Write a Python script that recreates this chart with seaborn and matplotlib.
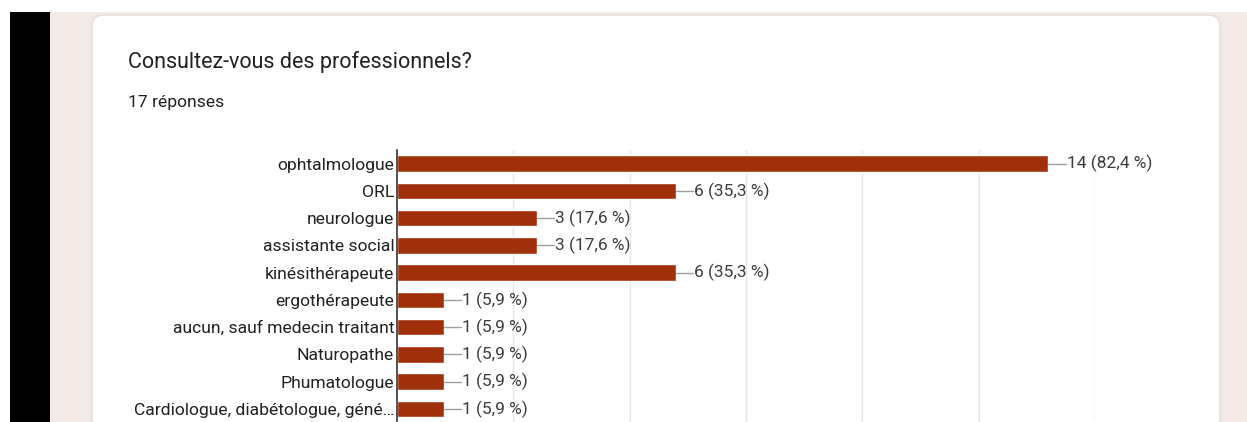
import matplotlib.pyplot as plt
import matplotlib.patches as mpatches
import seaborn as sns
import pandas as pd

# data
categories = [
    "ophtalmologue",
    "ORL",
    "neurologue",
    "assistante social",
    "kinésithérapeute",
    "ergothérapeute",
    "aucun, sauf medecin traitant",
    "Naturopathe",
    "Phumatologue",
    "Cardiologue, diabétologue, géné…",
]
counts = [14, 6, 3, 3, 6, 1, 1, 1, 1, 1]
percents = ["82,4", "35,3", "17,6", "17,6", "35,3", "5,9", "5,9", "5,9", "5,9", "5,9"]
n_responses = 17
grid_ticks = [2.5, 5, 7.5, 10, 12.5, 15]

BAR = "#a0300c"
TEXT = "#202124"


def main():
    df = pd.DataFrame({"cat": categories, "n": counts})

    sns.set_style("white")
    plt.rcParams["font.family"] = ["Roboto", "DejaVu Sans"]

    W, H = 1247, 422
    fig = plt.figure(figsize=(W / 100, H / 100), dpi=100)
    fig.patch.set_facecolor("white")

    # page background: black strip, pink page, white card
    bg = fig.add_axes([0, 0, 1, 1])
    bg.set_xlim(0, W)
    bg.set_ylim(H, 0)
    bg.axis("off")
    bg.add_patch(mpatches.Rectangle((50, 12), W - 50, H, color="#f3e9e6", lw=0))
    bg.add_patch(mpatches.Rectangle((10, 12), 40, H, color="black", lw=0))
    bg.add_patch(mpatches.FancyBboxPatch(
        (92, 15), 1220 - 92, H + 40,
        boxstyle="round,pad=0,rounding_size=12",
        facecolor="white", edgecolor="#e6dcda", lw=1.0))
    bg.text(128, 62, "Consultez-vous des professionnels?", fontsize=15.5,
            color=TEXT, va="center", ha="left")
    bg.text(128, 103, f"{n_responses} réponses", fontsize=12.6,
            color=TEXT, va="center", ha="left")

    # plot area: x 397..1095, y 150..422 (cut at the bottom)
    x0, x1 = 397, 1095
    y0, y1 = 150, 422
    ax = fig.add_axes([x0 / W, 1 - y1 / H, (x1 - x0) / W, (y1 - y0) / H])
    ax.patch.set_alpha(0)

    sns.barplot(data=df, x="n", y="cat", orient="h", color=BAR,
                width=0.6, saturation=1, ax=ax, zorder=3)

    ax.set_xlim(0, 15)
    ax.set_ylim(9.48, -0.5)
    ax.set_xticks(grid_ticks)
    ax.set_xticklabels([])
    ax.tick_params(axis="x", length=0)
    ax.tick_params(axis="y", length=0, pad=2, labelsize=12.6, labelcolor=TEXT)
    ax.grid(axis="x", color="#e6e6e6", lw=1, zorder=0)
    ax.set_xlabel("")
    ax.set_ylabel("")
    for side in ["top", "right", "bottom"]:
        ax.spines[side].set_visible(False)
    ax.spines["left"].set_color("#333333")
    ax.spines["left"].set_linewidth(1.2)
    ax.spines["left"].set_zorder(5)

    # leader line + value label
    for i, (n, p) in enumerate(zip(counts, percents)):
        ax.plot([n, n + 0.37], [i, i], color="#9e9e9e", lw=1, zorder=4,
                clip_on=False)
        ax.text(n + 0.39, i, f"{n} ({p} %)", va="center", ha="left",
                fontsize=12.5, color="#3c3c3c", clip_on=False)

    fig.savefig("out.png", dpi=100)


if __name__ == "__main__":
    main()
